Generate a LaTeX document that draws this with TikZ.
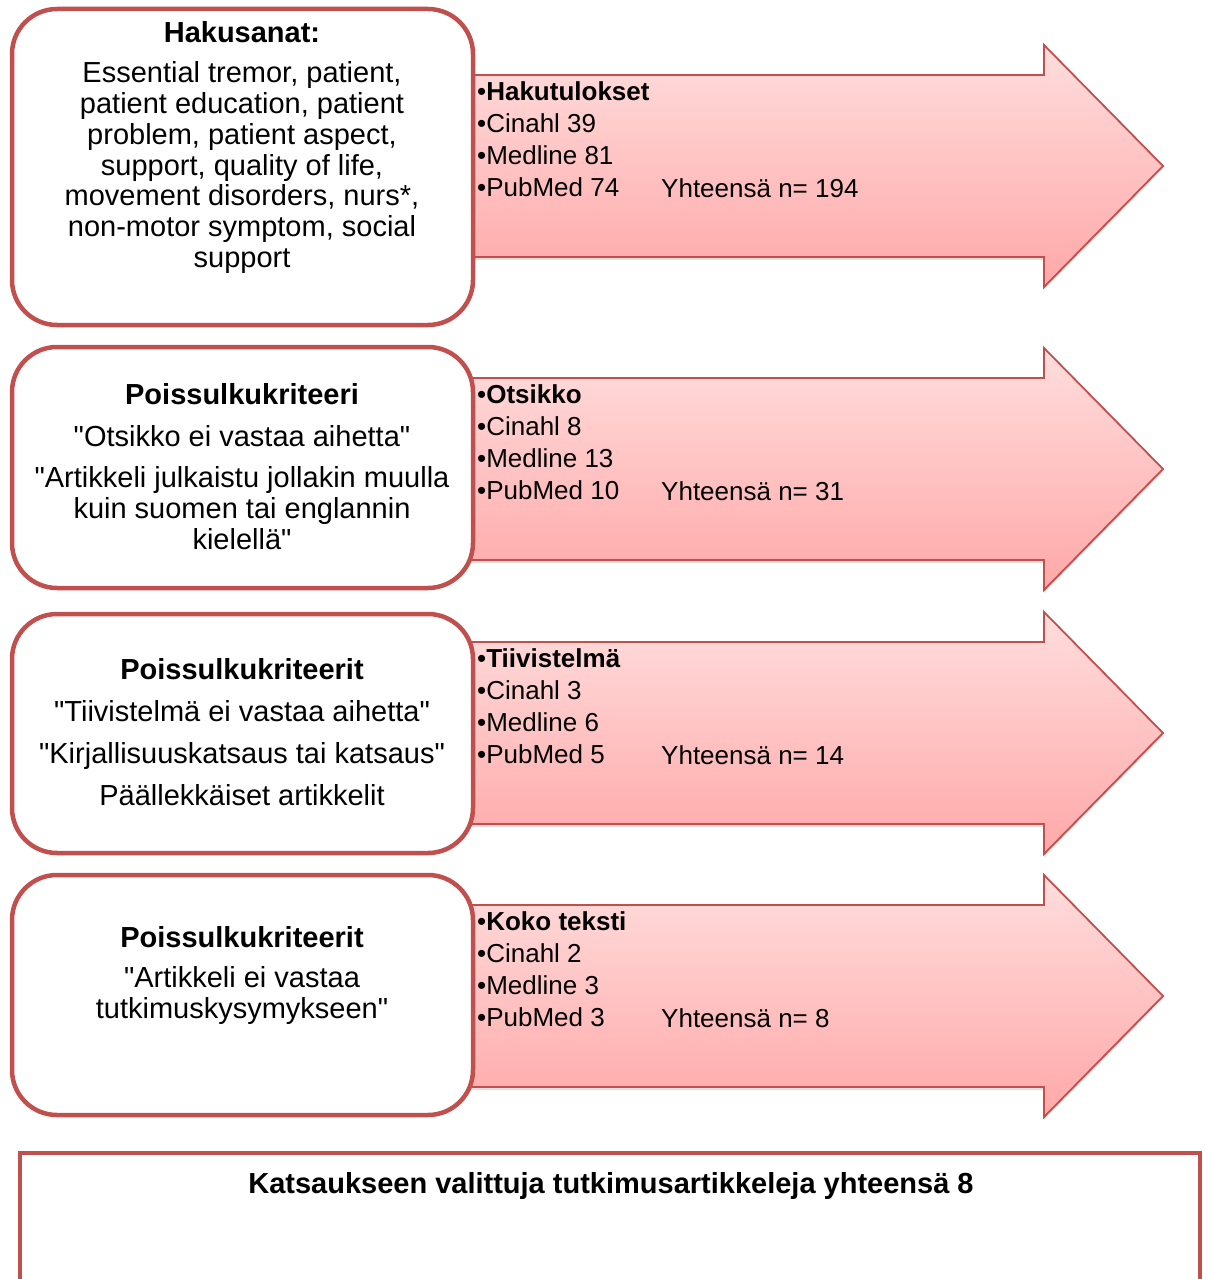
\documentclass[tikz,border=0pt]{standalone}
\usepackage{fontspec}
\setmainfont{Liberation Sans}[Ligatures=TeXOff]
\usepackage{tikz}
\usetikzlibrary{shadows}
\definecolor{boxred}{HTML}{C0504D}
\definecolor{arrtop}{HTML}{FFDDDD}
\definecolor{arrbot}{HTML}{FFA8A8}

\tikzset{
  critbox/.style={draw=boxred,line width=4.5pt,fill=white,rounded corners=45pt},
  hitarrow/.style={draw=boxred,line width=1.8pt,top color=arrtop,bottom color=arrbot,
    drop shadow={shadow xshift=0pt,shadow yshift=-3pt,opacity=.25}},
  boxtext/.style={anchor=north,align=center,inner sep=0pt,font=\fontsize{29}{30.7}\selectfont},
  hittext/.style={anchor=north west,align=left,inner sep=0pt,font=\fontsize{26}{32.3}\selectfont},
  sumtext/.style={anchor=base west,inner sep=0pt,font=\fontsize{26}{32.3}\selectfont}
}

\begin{document}
\begin{tikzpicture}[x=1pt,y=-1pt]
        \useasboundingbox (0,0) rectangle (1205,1279);
        % arrows
        \foreach \t/\otsake/\cin/\med/\pub/\yht in {45/Hakutulokset/39/81/74/194,
            348/Otsikko/8/13/10/31, 612/Tiivistelmä/3/6/5/14, 875/Koko teksti/2/3/3/8} {
          \draw[hitarrow] (440,\t+30) -- (1044,\t+30) -- (1044,\t) -- (1163,\t+121)
              -- (1044,\t+242) -- (1044,\t+212) -- (440,\t+212) -- cycle;
          \node[hittext] (hits\t) at (477,\t+36)
              {•\textbf{\otsake}\\ •Cinahl \cin\\ •Medline \med\\ •PubMed \pub};
          \node[sumtext] (sum\t) at (661,\t+152) {Yhteensä n= \yht};
        }
        % boxes
        \draw[critbox] (12,9) rectangle (473,325);
        \draw[critbox] (12,347) rectangle (473,588);
        \draw[critbox] (12,614) rectangle (473,853);
        \draw[critbox] (12,875) rectangle (473,1115);
        \draw[draw=boxred,line width=4.5pt] (20,1153) rectangle (1200,1300);
        % texts
        \node[boxtext] (hakusanat) at (242,21) {\textbf{Hakusanat:}\\[10pt]
            Essential tremor, patient,\\ patient education, patient\\ problem, patient aspect,\\
            support, quality of life,\\ movement disorders, nurs*,\\ non-motor symptom, social\\ support};
        \node[boxtext] (otsikko) at (242,383) {\textbf{Poissulkukriteeri}\\[12pt]
            "Otsikko ei vastaa aihetta"\\[10pt] "Artikkeli julkaistu jollakin muulla\\
            kuin suomen tai englannin\\ kielellä"};
        \node[boxtext] (tiivistelma) at (242,658) {\textbf{Poissulkukriteerit}\\[12pt]
            "Tiivistelmä ei vastaa aihetta"\\[11pt] "Kirjallisuuskatsaus tai katsaus"\\[11pt]
            Päällekkäiset artikkelit};
        \node[boxtext] (kokoteksti) at (242,926) {\textbf{Poissulkukriteerit}\\[10pt]
            "Artikkeli ei vastaa\\ tutkimuskysymykseen"};
        \node[anchor=base,inner sep=0pt,font=\fontsize{29}{30.7}\selectfont\bfseries] (valitut)
            at (611,1193) {Katsaukseen valittuja tutkimusartikkeleja yhteensä 8};
\end{tikzpicture}
\end{document}
